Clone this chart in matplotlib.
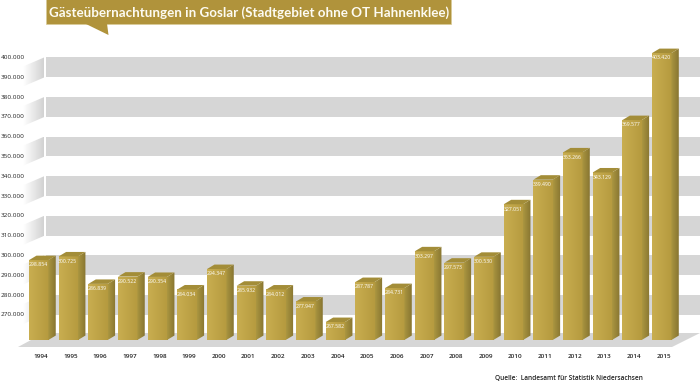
import numpy as np
from matplotlib import pyplot as plt
from matplotlib.patches import Polygon, Rectangle

years = [1994, 1995, 1996, 1997, 1998, 1999, 2000, 2001, 2002, 2003, 2004,
         2005, 2006, 2007, 2008, 2009, 2010, 2011, 2012, 2013, 2014, 2015]
values = [298854, 300725, 286839, 290522, 290354, 284034, 294347, 285932,
          284012, 277947, 267582, 287787, 284731, 303297, 297573, 300530,
          327051, 339490, 353266, 343129, 369577, 403420]
value_labels = ['298.854', '300.725', '286.839', '290.522', '290.354', '284.034',
                '294.347', '285.932', '284.012', '277.947', '267.582', '287.787',
                '284.731', '303.297', '297.573', '300.530', '327.051', '339.490',
                '353.266', '343.129', '369.577', '403.420']
wall_ticks = [270000, 280000, 290000, 300000, 310000, 320000, 330000,
              340000, 350000, 360000, 370000, 380000, 390000, 400000]
band_tops = [280000, 300000, 320000, 340000, 360000, 380000, 400000]

title = 'Gästeübernachtungen in Goslar (Stadtgebiet ohne OT Hahnenklee)'
source = 'Quelle:  Landesamt für Statistik Niedersachsen'

BAND = '#d6d6d6'
GOLD = '#b0933b'
FONT = 'Open Sans'
BAR_WIDTH = 0.65
DEPTH_X = 0.25
DEPTH_Y = 2250
BASE = 258500


def fmt_tick(v):
    return '{:,}'.format(v).replace(',', '.')


def gradient_fill(ax, patch, left, right, extent):
    # horizontal colour ramp clipped to a patch
    ramp = np.linspace(0, 1, 32)[None, :, None]
    img = np.array(left)[None, None, :] * (1 - ramp) + np.array(right)[None, None, :] * ramp
    im = ax.imshow(img, extent=extent, aspect='auto', interpolation='bilinear', zorder=patch.get_zorder())
    im.set_clip_path(patch)


def rgb(hex_color):
    return [int(hex_color[i:i + 2], 16) / 255 for i in (1, 3, 5)]


fig = plt.figure(figsize=(7, 3.84), dpi=100, facecolor='white')

# pixel layer for the decoration
ax_px = fig.add_axes([0, 0, 1, 1])
ax_wall = fig.add_axes([0, 0, 1, 1], sharex=None)
ax_bar = fig.add_axes([0, 0, 1, 1])
ax_top = fig.add_axes([0, 0, 1, 1])
for ax in (ax_px, ax_wall, ax_bar, ax_top):
    ax.axis('off')
    ax.patch.set_visible(False)

# floor and side wall
floor = Polygon([(18, 347), (672, 347), (700, 333), (44, 333)], closed=True, fc=BAND, ec='none')
ax_px.add_patch(floor)
for k in range(7):
    y0 = 57.5 + 39.6 * k
    wedge = Polygon([(44, y0), (44, y0 + 20), (23, y0 + 29), (23, y0 + 9)], closed=True,
                    fc='none', ec='none')
    ax_px.add_patch(wedge)
    gradient_fill(ax_px, wedge, rgb('#ffffff'), rgb('#d2d2d2'), (23, 44, y0 + 29, y0))
ax_px.set_xlim(0, 700)
ax_px.set_ylim(384, 0)

# back wall
for top in band_tops:
    ax_wall.fill_between([0.246, 22.29], top - 10000, top, color=BAND, lw=0)
for v in wall_ticks:
    ax_wall.text(-0.88, v, fmt_tick(v), ha='center', va='center', fontsize=4.6,
                 family=FONT, color='#222222')
ax_wall.set_xlim(-1.304, 22.29)
ax_wall.set_ylim(235100, 429040)

# bars
x = np.arange(len(years))
for i, v in zip(x, values):
    left = i - BAR_WIDTH / 2
    right = i + BAR_WIDTH / 2
    back_y = v + DEPTH_Y

    front = Rectangle((left, BASE), BAR_WIDTH, v - BASE, fc='none', ec='none')
    ax_bar.add_patch(front)
    gradient_fill(ax_bar, front, rgb('#c9ae50'), rgb('#b59a3f'), (left, right, BASE, v))

    side = Polygon([(right, BASE), (right, v), (right + DEPTH_X, back_y), (right + DEPTH_X, BASE + DEPTH_Y)],
                   closed=True, fc='none', ec='none')
    ax_bar.add_patch(side)
    gradient_fill(ax_bar, side, rgb('#ab9640'), rgb('#877531'), (right, right + DEPTH_X, BASE, back_y))

    ax_bar.add_patch(Polygon([(left, v), (right, v), (right + DEPTH_X, back_y), (left + DEPTH_X, back_y)],
                             closed=True, fc='#a38d38', ec='none'))

    ax_bar.text(i - 0.02, v - 2400, value_labels[i], ha='center', va='center', fontsize=3.7,
                family=FONT, color='white')
    ax_bar.text(i + 0.07, 250000, str(years[i]), ha='center', va='center', fontsize=4.6,
                family=FONT, weight='semibold', color='#222222')
ax_bar.set_xlim(-1.304, 22.29)
ax_bar.set_ylim(236278, 430217)

# title flag and source
ax_top.add_patch(Rectangle((46, -1), 405, 25, fc=GOLD, ec='#d9cb98', lw=0.5))
ax_top.add_patch(Polygon([(85, 23.5), (107, 23.5), (108.5, 35)], closed=True, fc=GOLD, ec='none'))
ax_top.text(249, 12.5, title, ha='center', va='center', fontsize=9.6, family='Lato',
            weight='bold', color='#fdfbf2')
ax_top.text(495, 378.5, source, ha='left', va='center', fontsize=4.7, family=FONT,
            weight='semibold', color='#222222')
ax_top.set_xlim(0, 700)
ax_top.set_ylim(384, 0)

plt.savefig('out.png', dpi=100)
plt.close()
